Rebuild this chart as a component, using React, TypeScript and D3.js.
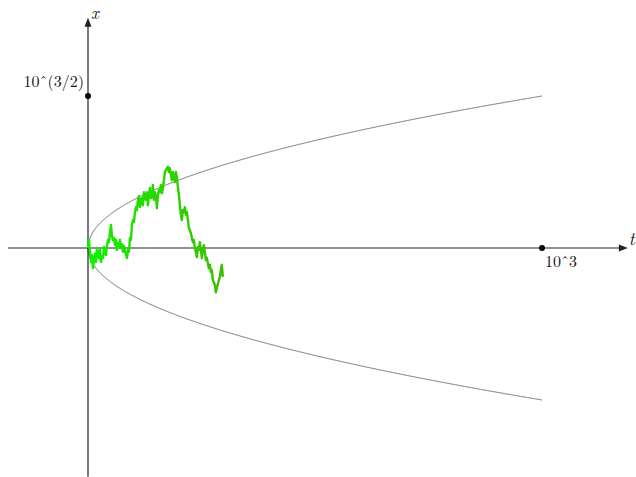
import React from "react";
import * as d3 from "d3";

// Horizon and scale landmarks
const T_MAX = 1000;
const X_MAX = Math.pow(10, 1.5);
const tAxisExtent = [-176, 1189];
const xAxisExtent = [-47.6, 47.9];
const tickLabels = { t: "10ˆ3", x: "10ˆ(3/2)" };
const axisNames = { t: "t", x: "x" };

// Sample path of the walk: time step and positions
const walkStep = 2.2;
const walkValues = [
  0, 1.7, -0.8, -2.9, -1.5, -4.2, -2.5, -1.2, -2.9, 0, -1.5, -2.1, -0.4, -2.9, -1.7, -2.1,
  0.2, -0.8, -1.5, 0.6, 1.7, 1.2, 3.3, 4.8, 2.5, 1.7, 2.1, 0.6, 1.7, -0.4, 1.0, 0.4,
  1.7, 0, 0.8, -0.8, 0.4, -0.4, -1.5, -2.1, -0.4, -0.8, 2.1, 1.7, 4.8, 5.8, 5.4, 7.5,
  8.5, 7.9, 10.0, 10.8, 8.5, 10.0, 10.4, 8.9, 11.6, 10.6, 10.0, 11.6, 8.9, 11.0, 12.5, 10.4,
  10.6, 13.1, 10.0, 11.6, 10.8, 8.3, 11.0, 12.1, 11.6, 13.1, 11.4, 12.5, 14.1, 15.8, 16.2, 16.6,
  16.9, 15.8, 16.6, 15.2, 14.1, 15.8, 15.0, 13.7, 15.8, 14.6, 12.7, 11.0, 8.9, 6.9, 5.8, 7.9,
  7.5, 8.5, 6.9, 7.5, 5.8, 4.2, 3.7, 3.1, 2.1, 1.2, 1.7, 0, -0.8, -1.9, 0.2, -0.4,
  1.2, -0.4, -2.1, -0.4, 0.6, -0.8, -2.5, -2.1, -3.1, -4.2, -3.5, -5.0, -4.6, -6.7, -7.1, -7.7,
  -9.2, -8.3, -7.5, -6.7, -6.0, -4.6, -3.5, -6.0,
];

const W = 636;
const H = 477;

export default function App() {
  const tScale = d3.scaleLinear().domain([0, T_MAX]).range([88, 542]);
  const xScale = d3.scaleLinear().domain([0, X_MAX]).range([248, 96]);

  const ts = d3.range(0, T_MAX + 0.001, 1);
  const upper = d3
    .line<number>()
    .x((t) => tScale(t))
    .y((t) => xScale(Math.sqrt(t)))(ts) as string;
  const lower = d3
    .line<number>()
    .x((t) => tScale(t))
    .y((t) => xScale(-Math.sqrt(t)))(ts) as string;

  const walkPath = d3
    .line<number>()
    .x((_, i) => tScale(i * walkStep))
    .y((v) => xScale(v))(walkValues) as string;

  const walkEnd = tScale((walkValues.length - 1) * walkStep);

  const t0 = tScale(tAxisExtent[0]);
  const t1 = tScale(tAxisExtent[1]);
  const y0 = xScale(0);
  const xBottom = xScale(xAxisExtent[0]);
  const xTop = xScale(xAxisExtent[1]);
  const ox = tScale(0);

  const axisColor = "#222";
  const font = "'Latin Modern Roman', 'DejaVu Serif', 'Liberation Serif', serif";

  return (
    <svg
      width={W}
      height={H}
      style={{ position: "absolute", left: 0, top: 0, background: "#fff" }}
    >
      <defs>
        <linearGradient
          id="walkGrad"
          gradientUnits="userSpaceOnUse"
          x1={ox}
          x2={walkEnd}
          y1={0}
          y2={0}
        >
          <stop offset="0%" stopColor="#12f000" />
          <stop offset="100%" stopColor="#3cbf00" />
        </linearGradient>
      </defs>

      {/* envelope ±sqrt(t) */}
      <path d={upper} fill="none" stroke="#6a6a6a" strokeWidth={1} />
      <path d={lower} fill="none" stroke="#6a6a6a" strokeWidth={1} />

      {/* t axis */}
      <line x1={t0} x2={t1 - 6} y1={y0} y2={y0} stroke={axisColor} strokeWidth={1.2} />
      <path
        d={`M${t1},${y0} L${t1 - 9},${y0 - 3.5} L${t1 - 9},${y0 + 3.5} Z`}
        fill={axisColor}
      />
      {/* x axis */}
      <line x1={ox} x2={ox} y1={xBottom} y2={xTop + 6} stroke={axisColor} strokeWidth={1.2} />
      <path
        d={`M${ox},${xTop} L${ox - 3.5},${xTop + 9} L${ox + 3.5},${xTop + 9} Z`}
        fill={axisColor}
      />

      {/* walk */}
      <path
        d={walkPath}
        fill="none"
        stroke="url(#walkGrad)"
        strokeWidth={2.4}
        strokeLinejoin="round"
      />

      {/* landmarks */}
      <circle cx={tScale(T_MAX)} cy={y0} r={3} fill="#000" />
      <circle cx={ox} cy={xScale(X_MAX)} r={3} fill="#000" />

      <text x={tScale(T_MAX) + 3} y={y0 + 19} fontFamily={font} fontSize={16} fill="#111">
        {tickLabels.t}
      </text>
      <text
        x={ox - 4}
        y={xScale(X_MAX) - 9}
        fontFamily={font}
        fontSize={16}
        fill="#111"
        textAnchor="end"
      >
        {tickLabels.x}
      </text>
      <text x={t1 + 1} y={y0 - 3} fontFamily={font} fontSize={18} fontStyle="italic" fill="#111">
        {axisNames.t}
      </text>
      <text x={ox + 3} y={xTop + 1.5} fontFamily={font} fontSize={17} fontStyle="italic" fill="#111">
        {axisNames.x}
      </text>
    </svg>
  );
}
